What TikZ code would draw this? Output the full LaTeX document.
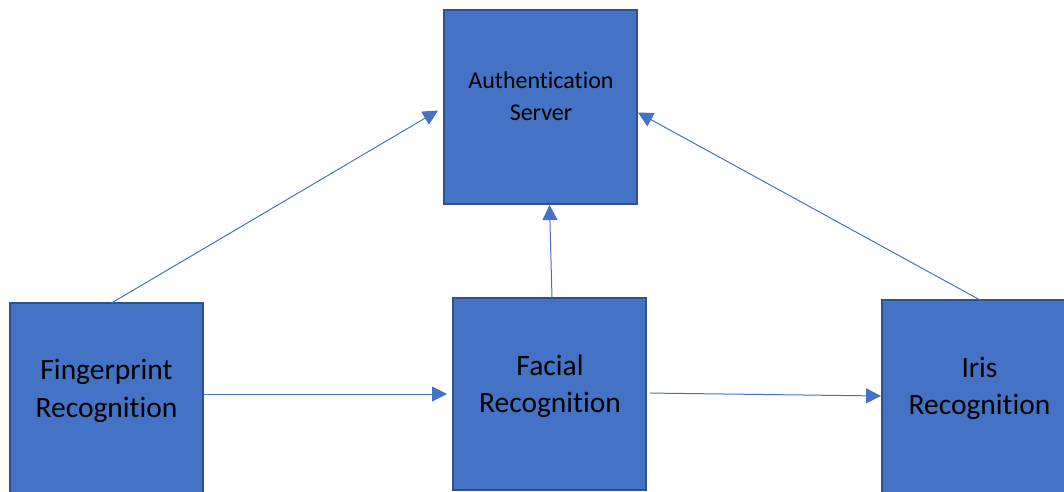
\documentclass[tikz,border=0pt]{standalone}
\usepackage{fontspec}
\setmainfont{Carlito}[Ligatures=NoCommon]
\usetikzlibrary{arrows.meta}
\definecolor{boxfill}{HTML}{4472C4}
\definecolor{boxline}{HTML}{2F528F}
\definecolor{linkcol}{HTML}{4472C4}
\tikzset{
  stage/.style={draw=boxline, line width=1.5pt, fill=boxfill, anchor=north west,
    minimum width=193pt, minimum height=194pt, inner sep=0pt, outer sep=0pt},
  smalllabel/.style={anchor=base, align=center, inner sep=0pt,
    font=\fontsize{24}{32}\selectfont},
  biglabel/.style={anchor=base, align=center, inner sep=0pt,
    font=\fontsize{29.5}{37.5}\selectfont},
  link/.style={draw=linkcol, line width=1pt, -{Triangle[length=15pt,width=15pt]}}
}
\begin{document}
\begin{tikzpicture}[x=1pt, y=-1pt]
  \useasboundingbox (0,0) rectangle (1064,491);
  \clip (0,0) rectangle (1064,491);

  % boxes
  \node[stage] (auth) at (444,10) {};
  \node[stage] (fp) at (10,303) {};
  \node[stage, minimum height=192pt] (fc) at (453,298) {};
  \node[stage] (ir) at (882,300) {};

  % labels (anchored on the baseline of the last line)
  \node[smalllabel] (authtxt) at (541,120) {Authentication\\Server};
  \node[biglabel] (fptxt) at (106.5,417) {Fingerprint\\Recognition};
  \node[biglabel] (fctxt) at (550,412.5) {Facial\\Recognition};
  \node[biglabel] (irtxt) at (979.5,414.5) {Iris\\Recognition};

  % links to the server
  \draw[link, shorten >=7pt] ([xshift=5pt]fp.north) -- (auth.west);
  \draw[link, shorten >=1pt] ([xshift=2.5pt]fc.north) -- ([xshift=9pt]auth.south);
  \draw[link, shorten >=1pt] ([xshift=1.5pt]ir.north) -- ([yshift=-5pt]auth.east);

  % links along the chain
  \draw[link, shorten <=1pt, shorten >=6pt] ([yshift=-91pt]fp.north east) -- ([yshift=-96pt]fc.north west);
  \draw[link, shorten <=4pt, shorten >=1pt] ([yshift=-95pt]fc.north east) -- ([yshift=-96pt]ir.north west);
\end{tikzpicture}
\end{document}
